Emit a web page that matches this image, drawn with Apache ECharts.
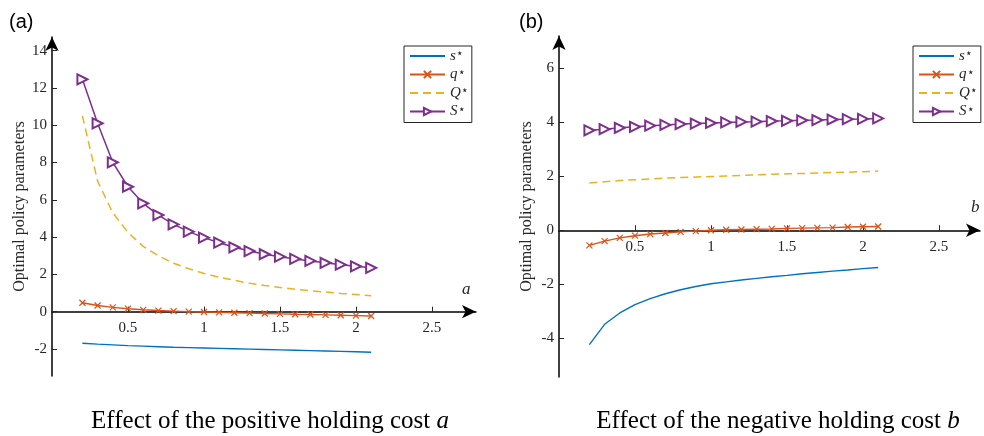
<!DOCTYPE html>
<html>
<head>
<meta charset="utf-8">
<script src="https://cdn.jsdelivr.net/npm/echarts@6/dist/echarts.min.js"></script>
<style>
html,body{margin:0;padding:0;background:#fff;}
#chart{width:984px;height:436px;}
</style>
</head>
<body>
<div id="chart"></div>
<script>
// x values (holding cost a / b)
const costValues = [0.2,0.3,0.4,0.5,0.6,0.7,0.8,0.9,1.0,1.1,1.2,1.3,1.4,1.5,1.6,1.7,1.8,1.9,2.0,2.1];

// Panel (a): effect of positive holding cost a
const aSmallS = [-1.69,-1.74,-1.78,-1.82,-1.85,-1.88,-1.91,-1.93,-1.95,-1.97,-1.99,-2.01,-2.03,-2.05,-2.07,-2.09,-2.11,-2.13,-2.15,-2.18];
const aSmallQ = [0.48,0.33,0.23,0.16,0.10,0.06,0.03,0.00,-0.02,-0.04,-0.06,-0.08,-0.10,-0.12,-0.14,-0.15,-0.17,-0.19,-0.21,-0.23];
const aBigQ   = [10.5,7.0,5.3,4.25,3.5,3.0,2.6,2.3,2.05,1.85,1.68,1.52,1.4,1.3,1.2,1.12,1.05,0.98,0.92,0.86];
const aBigS   = [12.46,10.1,8.01,6.7,5.81,5.18,4.68,4.29,3.97,3.7,3.45,3.25,3.08,2.95,2.83,2.72,2.62,2.52,2.43,2.35];

// Panel (b): effect of negative holding cost b
const bSmallS = [-4.23,-3.48,-3.06,-2.75,-2.53,-2.35,-2.2,-2.08,-1.98,-1.91,-1.84,-1.78,-1.72,-1.67,-1.61,-1.56,-1.51,-1.47,-1.42,-1.38];
const bSmallQ = [-0.56,-0.4,-0.28,-0.2,-0.14,-0.1,-0.06,-0.03,0,0.02,0.03,0.04,0.05,0.07,0.08,0.09,0.1,0.12,0.13,0.14];
const bBigQ   = [1.75,1.8,1.84,1.87,1.9,1.93,1.95,1.97,1.99,2.01,2.03,2.05,2.07,2.09,2.1,2.12,2.14,2.15,2.17,2.19];
const bBigS   = [3.7,3.74,3.79,3.83,3.87,3.9,3.93,3.95,3.97,3.99,4.01,4.02,4.04,4.05,4.07,4.08,4.1,4.11,4.12,4.14];

// tick labels
const xTicks = [0.5,1,1.5,2,2.5];
const aYTicks = [-2,0,2,4,6,8,10,12,14];
const bYTicks = [-4,-2,0,2,4,6];

const seriesNames = ['s*','q*','Q*','S*'];
const panelLabels = ['(a)','(b)'];
const captions = ['Effect of the positive holding cost ','Effect of the negative holding cost '];
const captionVars = ['a','b'];

const C = {s:'#0072BD', q:'#D95319', Q:'#EDB120', S:'#7E2F8E'};
const SERIF = 'Liberation Serif';
const pair = arr => arr.map((v,i)=>[costValues[i], v]);

function mkSeries(idx, sArr, qArr, QArr, SArr){
  return [
    {name:'s*', type:'line', xAxisIndex:idx, yAxisIndex:idx, data:pair(sArr), showSymbol:false, symbol:'none',
     lineStyle:{color:C.s,width:1.4}, itemStyle:{color:C.s}},
    {name:'q*', type:'line', xAxisIndex:idx, yAxisIndex:idx, data:pair(qArr),
     symbol:'path://M0 0L10 10M10 0L0 10', symbolSize:6,
     lineStyle:{color:C.q,width:1.4}, itemStyle:{color:C.q,borderColor:C.q,borderWidth:1.2}},
    {name:'Q*', type:'line', xAxisIndex:idx, yAxisIndex:idx, data:pair(QArr), showSymbol:false, symbol:'none',
     lineStyle:{color:C.Q,width:1.5,type:[8,5]}, itemStyle:{color:C.Q}},
    {name:'S*', type:'line', xAxisIndex:idx, yAxisIndex:idx, data:pair(SArr),
     symbol:'emptyTriangle', symbolRotate:-90, symbolSize:10,
     lineStyle:{color:C.S,width:1.5}, itemStyle:{color:C.S,borderWidth:1.1}}
  ];
}

const axisLabelStyle = {fontFamily:SERIF, fontSize:15, color:'#262626'};

function xAxisCfg(idx, max, offset){
  return {
    type:'value', gridIndex:idx, min:0, max:max, position:'bottom', offset:offset,
    axisLine:{onZero:false, lineStyle:{color:'#000',width:1.5}, symbol:['none','arrow'], symbolSize:[10,14]},
    axisTick:{show:true, inside:true, length:5, customValues:xTicks, lineStyle:{color:'#262626'}},
    axisLabel:Object.assign({customValues:xTicks, margin:9}, axisLabelStyle),
    splitLine:{show:false}
  };
}
function yAxisCfg(idx, min, max, ticks){
  return {
    type:'value', gridIndex:idx, min:min, max:max,
    name:'Optimal policy parameters', nameLocation:'middle', nameGap:24,
    nameTextStyle:{fontFamily:SERIF, fontSize:16, color:'#262626'},
    axisLine:{onZero:false, lineStyle:{color:'#000',width:1.5}, symbol:['none','arrow'], symbolSize:[10,14]},
    axisTick:{show:true, inside:true, length:5, customValues:ticks, lineStyle:{color:'#262626'}},
    axisLabel:Object.assign({customValues:ticks, margin:5}, axisLabelStyle),
    splitLine:{show:false}
  };
}

const legendRich = {
  i:{fontFamily:SERIF, fontStyle:'italic', fontSize:15, color:'#262626', lineHeight:16},
  sup:{fontFamily:SERIF, fontSize:12, color:'#262626', padding:[0,0,4,0], lineHeight:12}
};
function legendCfg(left){
  return {
    data:[
      {name:'s*', itemStyle:{opacity:0}},
      {name:'q*'},
      {name:'Q*', itemStyle:{opacity:0}},
      {name:'S*'}
    ],
    orient:'vertical', left:left, top:46,
    itemWidth:35, itemHeight:9, itemGap:2.5,
    padding:[2,3,3,5], borderColor:'#262626', borderWidth:1, backgroundColor:'#fff',
    formatter: n => '{i|' + n[0] + '}{sup|⋆}',
    textStyle:{rich:legendRich}
  };
}

// grid geometry
const gA = {left:52, top:37, width:424, height:339, ymin:-3.45, ymax:14.73, xmax:2.79};
const gB = {left:559, top:36, width:421, height:341, ymin:-5.43, ymax:7.19, xmax:2.77};
const zeroOffset = g => -g.height * (0 - g.ymin) / (g.ymax - g.ymin);

const option = {
  animation:false,
  backgroundColor:'#fff',
  title:[
    {text:panelLabels[0], left:4, top:7, textStyle:{fontFamily:'Liberation Sans', fontSize:20, fontWeight:'normal', color:'#000'}},
    {text:panelLabels[1], left:514, top:7, textStyle:{fontFamily:'Liberation Sans', fontSize:20, fontWeight:'normal', color:'#000'}},
    {text:captions[0] + '{i|' + captionVars[0] + '}', left:265, top:404, textAlign:'center',
     textStyle:{fontFamily:SERIF, fontSize:25, fontWeight:'normal', color:'#000',
       rich:{i:{fontFamily:SERIF, fontSize:25, fontStyle:'italic', color:'#000'}}}},
    {text:captions[1] + '{i|' + captionVars[1] + '}', left:773, top:404, textAlign:'center',
     textStyle:{fontFamily:SERIF, fontSize:25, fontWeight:'normal', color:'#000',
       rich:{i:{fontFamily:SERIF, fontSize:25, fontStyle:'italic', color:'#000'}}}}
  ],
  legend:[legendCfg(404), legendCfg(913)],
  grid:[
    {left:gA.left, top:gA.top, width:gA.width, height:gA.height, containLabel:false},
    {left:gB.left, top:gB.top, width:gB.width, height:gB.height, containLabel:false}
  ],
  xAxis:[xAxisCfg(0, gA.xmax, zeroOffset(gA)), xAxisCfg(1, gB.xmax, zeroOffset(gB))],
  yAxis:[yAxisCfg(0, gA.ymin, gA.ymax, aYTicks), yAxisCfg(1, gB.ymin, gB.ymax, bYTicks)],
  graphic:[
    {type:'text', left:462, top:281, style:{text:captionVars[0], font:'italic 17px "Liberation Serif"', fill:'#262626'}},
    {type:'text', left:971, top:199, style:{text:captionVars[1], font:'italic 17px "Liberation Serif"', fill:'#262626'}}
  ],
  series:[].concat(mkSeries(0,aSmallS,aSmallQ,aBigQ,aBigS), mkSeries(1,bSmallS,bSmallQ,bBigQ,bBigS))
};

const chart = echarts.init(document.getElementById('chart'), null, {renderer:'canvas'});
chart.setOption(option);
</script>
</body>
</html>
